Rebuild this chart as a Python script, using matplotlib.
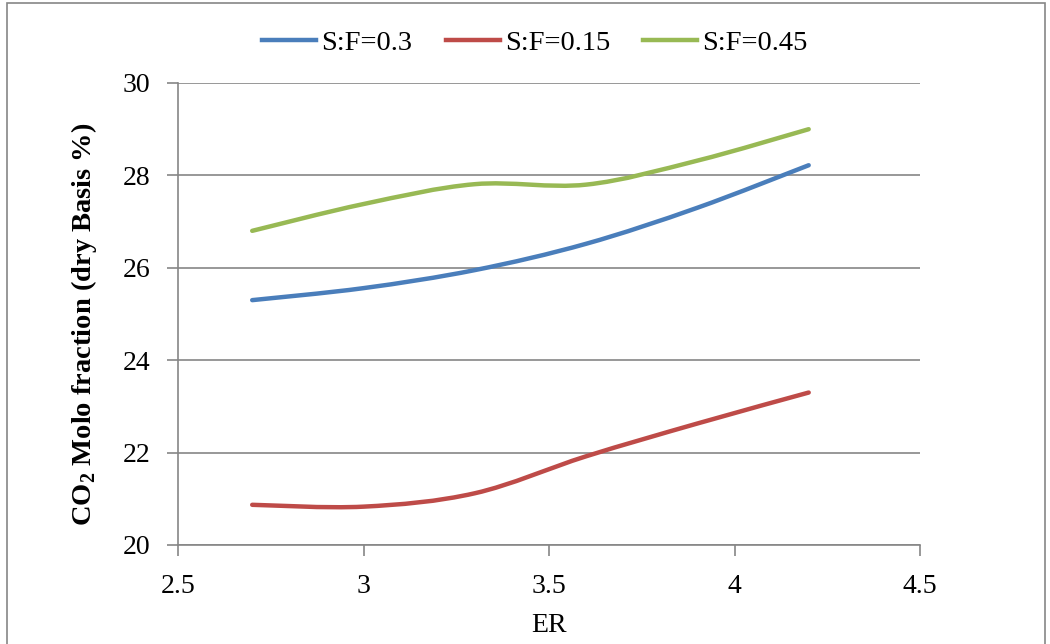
# -*- coding: utf-8 -*-
"""CO2 摩尔分数 vs ER, 三种 S:F"""
import matplotlib
matplotlib.use('Agg')
import matplotlib.pyplot as plt
from matplotlib.path import Path
from matplotlib.patches import PathPatch, Rectangle
from matplotlib.lines import Line2D
import numpy as np

plt.rcParams['font.family'] = ['Liberation Serif', 'DejaVu Serif']
plt.rcParams['mathtext.fontset'] = 'custom'
plt.rcParams['mathtext.rm'] = 'Liberation Serif'
plt.rcParams['mathtext.bf'] = 'Liberation Serif:bold'

ER = [2.7, 3.0, 3.3, 3.6, 3.9, 4.2]
sf_03 = [25.30, 25.56, 25.95, 26.52, 27.30, 28.22]
sf_015 = [20.87, 20.83, 21.12, 21.92, 22.63, 23.30]
sf_045 = [26.80, 27.38, 27.81, 27.80, 28.32, 29.00]
labels = ['S:F=0.3', 'S:F=0.15', 'S:F=0.45']
colors = ['#4A7EBB', '#BE4B48', '#98B954']

def smooth_path(x, y):
    # Excel 式平滑线: Catmull-Rom -> 三次贝塞尔
    p = np.column_stack([x, y]).astype(float)
    ext = np.vstack([p[0], p, p[-1]])
    verts = [p[0]]; codes = [Path.MOVETO]
    for i in range(len(p) - 1):
        p0, p1, p2, p3 = ext[i], ext[i+1], ext[i+2], ext[i+3]
        verts += [p1 + (p2 - p0) / 6, p2 - (p3 - p1) / 6, p2]
        codes += [Path.CURVE4] * 3
    return Path(verts, codes)

fig = plt.figure(figsize=(10.5, 6.44), dpi=100, facecolor='white')
ax = fig.add_axes([178/1050, 1-545/644, (920-178)/1050, (545-83)/644])

for ys, c in zip([sf_03, sf_015, sf_045], colors):
    ax.add_patch(PathPatch(smooth_path(ER, ys), fill=False, edgecolor=c, lw=3.2,
                           capstyle='round', zorder=3))

ax.set_xlim(2.5, 4.5); ax.set_ylim(20, 30)
ax.set_xticks([2.5, 3, 3.5, 4, 4.5]); ax.set_xticklabels(['2.5', '3', '3.5', '4', '4.5'])
ax.set_yticks([20, 22, 24, 26, 28, 30])
ax.yaxis.grid(True, color='#868686', lw=1.2); ax.set_axisbelow(True)
for s in ['top', 'right']: ax.spines[s].set_visible(False)
for s in ['left', 'bottom']: ax.spines[s].set_color('#868686'); ax.spines[s].set_linewidth(1.2)
ax.tick_params(axis='x', length=8, width=1.2, color='#868686', labelsize=20, pad=13)
ax.tick_params(axis='y', length=8, width=1.2, color='#868686', labelsize=20, pad=12)

ax.set_xlabel('ER', fontsize=20)
ax.xaxis.set_label_coords(549/1050, 1-625/644, transform=fig.transFigure)
ax.xaxis.label.set_va('center')
ax.set_ylabel(r'CO$_\mathbf{2}$ Molo fraction (dry Basis %)', fontsize=20.5, fontweight='bold')
ax.yaxis.set_label_coords(84/1050, 1-324/644, transform=fig.transFigure)
ax.yaxis.label.set_va('center')

handles = [Line2D([], [], color=c, lw=3.2) for c in colors]
fig.legend(handles, labels, loc='center', bbox_to_anchor=(535/1050, 1-43/644), ncol=3,
           frameon=False, fontsize=20.5, handlelength=1.9, handletextpad=0.18,
           columnspacing=1.16)

fig.add_artist(Rectangle((7/1050, -0.01), (1045-7)/1050, 1.01-3/644, transform=fig.transFigure,
                         fill=False, edgecolor='#868686', lw=1.2))

plt.savefig('out.png', dpi=100, facecolor='white')
